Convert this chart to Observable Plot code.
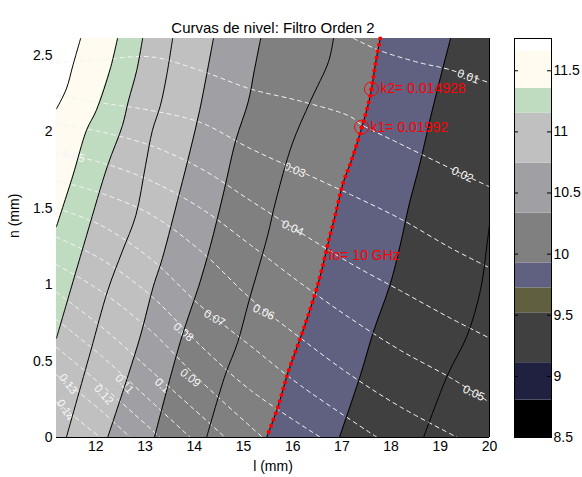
<!DOCTYPE html>
<html>
<head>
<meta charset="utf-8">
<script src="https://cdn.jsdelivr.net/npm/d3@7"></script>
<script src="https://cdn.jsdelivr.net/npm/@observablehq/plot@0.6"></script>
<style>
  html, body { margin: 0; padding: 0; background: #fff; }
  #wrap { position: relative; width: 582px; height: 477px; font-family: "Liberation Sans", Arial, Helvetica, sans-serif; }
  #wrap svg { position: absolute; top: 0; }
</style>
</head>
<body>
<div id="wrap"></div>
<script>
// ---- axes ----
const xDomain = [11.2, 20];
const yDomain = [0, 2.61];
const xTicks = [12, 13, 14, 15, 16, 17, 18, 19, 20];
const yTicks = [0, 0.5, 1, 1.5, 2, 2.5];

// ---- frequency contour lines (GHz), points [l (mm), n (mm)] ----
const fLevels = [11.75, 11.5, 11.25, 11.0, 10.75, 10.5, 10.25, 10.0, 9.75, 9.5];
const f1175 = [[11.69,2.61],[11.53,2.43],[11.40,2.28],[11.20,2.15]];
const f1150 = [[12.44,2.61],[12.30,2.42],[12.01,2.14],[11.81,2.01],[11.53,1.71],[11.20,1.38]];
const f1125 = [[12.95,2.61],[12.83,2.40],[12.66,2.20],[12.54,2.04],[12.24,1.78],[11.81,1.32],[11.20,0.65]];
const f1100 = [[13.56,2.61],[13.44,2.37],[13.31,2.17],[13.15,2.01],[13.01,1.78],[12.81,1.45],[12.54,1.22],[12.24,0.96],[11.89,0.56],[11.40,0]];
const f1075 = [[14.39,2.61],[14.25,2.37],[14.11,2.14],[13.92,1.88],[13.70,1.60],[13.35,1.17],[13.17,0.99],[12.91,0.67],[12.66,0.41],[12.24,0]];
const f1050 = [[15.35,2.61],[15.22,2.40],[15.10,2.20],[14.84,1.94],[14.61,1.62],[14.39,1.33],[14.13,1.03],[13.72,0.63],[13.19,0]];
const f1025 = [[16.83,2.61],[16.73,2.46],[16.36,2.20],[15.99,1.92],[15.65,1.54],[15.49,1.32],[15.10,0.88],[14.88,0.62],[14.63,0.41],[14.25,0]];
const f1000 = [[17.78,2.61],[17.68,2.44],[17.58,2.24],[17.38,2.00],[17.17,1.79],[17.03,1.67],[16.87,1.46],[16.75,1.31],[16.52,1.01],[16.20,0.69],[15.91,0.43],[15.69,0.19],[15.47,0]];
const f0975 = [[19.21,2.61],[19.00,2.35],[18.80,2.09],[18.60,1.81],[18.35,1.50],[18.23,1.32],[17.99,1.01],[17.64,0.69],[17.38,0.41],[16.95,0]];
const f0950 = [[20.00,1.39],[19.96,1.29],[19.82,0.97],[19.55,0.67],[19.15,0.41],[18.66,0]];
const fLines = [f1175, f1150, f1125, f1100, f1075, f1050, f1025, f1000, f0975, f0950];
// colour of the band on the higher-l side of each frequency line
const bandColors = ["#FFFBF0", "#C0DCC0", "#C0C0C0", "#C0C0C0", "#A0A0A4", "#808080", "#808080", "#606080", "#404040", "#404040"];

// ---- k contour lines (dashed) ----
const kLevels = ["0.01","0.02","0.03","0.04","0.05","0.06","0.07","0.08","0.09","0.1","0.11","0.12","0.13","0.14"];
const k001 = [[17.24,2.61],[17.78,2.53],[18.60,2.45],[19.15,2.41],[20.00,2.32]];
const k002 = [[11.20,2.45],[12.09,2.47],[13.11,2.49],[14.13,2.40],[15.14,2.28],[16.16,2.20],[17.17,2.10],[17.38,2.05],[18.19,1.92],[19.21,1.76],[20.00,1.64]];
const k003 = [[11.20,2.24],[12.09,2.19],[13.11,2.14],[14.13,2.06],[15.14,1.89],[16.16,1.74],[17.17,1.59],[18.19,1.43],[19.21,1.24],[20.00,1.11]];
const k004 = [[11.20,2.05],[12.09,2.00],[13.11,1.91],[14.13,1.76],[15.14,1.55],[16.16,1.34],[17.17,1.14],[18.19,0.96],[19.21,0.78],[20.00,0.65]];
const k005 = [[11.20,1.86],[12.09,1.80],[13.11,1.68],[14.13,1.50],[15.14,1.26],[16.16,1.01],[17.17,0.78],[18.19,0.57],[19.21,0.39],[20.00,0.23]];
const k006 = [[11.20,1.68],[12.09,1.60],[13.11,1.46],[14.13,1.22],[15.14,0.91],[16.16,0.65],[17.17,0.41],[18.19,0.20],[19.35,0]];
const k007 = [[11.20,1.50],[12.09,1.39],[13.11,1.17],[14.13,0.86],[15.14,0.60],[16.16,0.34],[17.72,0]];
const k008 = [[11.20,1.31],[12.09,1.17],[13.11,0.93],[14.13,0.60],[15.14,0.31],[16.57,0]];
const k009 = [[11.20,1.13],[12.09,0.96],[13.11,0.70],[14.13,0.37],[15.39,0]];
const k010 = [[11.20,0.95],[12.09,0.73],[13.11,0.44],[14.63,0]];
const k011 = [[11.20,0.77],[12.09,0.54],[13.11,0.24],[13.92,0]];
const k012 = [[11.20,0.59],[12.09,0.35],[13.31,0]];
const k013 = [[11.20,0.41],[12.09,0.18],[12.70,0]];
const k014 = [[11.20,0.23],[12.09,0]];
const kLines = [k001,k002,k003,k004,k005,k006,k007,k008,k009,k010,k011,k012,k013,k014];

// k contour labels: [l, n, text, angle]
const kLabels = [
  [19.57, 2.36, "0.01", 20], [19.45, 1.72, "0.02", 25], [16.04, 1.75, "0.03", 22],
  [16.00, 1.37, "0.04", 25], [19.68, 0.29, "0.05", 25], [11.55, 1.84, "0.05", 15],
  [15.41, 0.82, "0.06", 25], [14.41, 0.78, "0.07", 30], [13.78, 0.69, "0.08", 40],
  [13.92, 0.39, "0.09", 38], [13.35, 0.34, "0.1", 42], [12.58, 0.35, "0.11", 48],
  [12.16, 0.28, "0.12", 48], [11.44, 0.35, "0.13", 52], [11.38, 0.18, "0.14", 58]
];

// marked points
const kPoints = [[17.60, 2.28, "k2= 0.014928"], [17.40, 2.03, "k1= 0.01992"]];
const foNote = [[16.73, 1.19, "fo= 10 GHz"]];

// ---- colour bar ----
const cbEdges = [8.5, 8.806, 9.112, 9.52, 9.724, 9.928, 10.336, 10.744, 11.152, 11.356, 11.662, 11.764];
const cbColors = ["#000000","#202040","#404040","#606040","#606080","#808080","#A0A0A4","#C0C0C0","#C0DCC0","#FFFBF0","#FFFFFF"];
const cbTicks = [8.5, 9, 9.5, 10, 10.5, 11, 11.5];

const FONT = '"Liberation Sans", Arial, Helvetica, sans-serif';
const X = d => d[0], Y = d => d[1];
const CURVE = "catmull-rom";

const bandMarks = fLines.map((ln, i) => {
  const pts = ln[ln.length - 1][1] > 0 ? [...ln, [xDomain[0], 0]] : ln;
  return Plot.areaX(pts, {x1: X, x2: xDomain[1], y: Y, fill: bandColors[i], curve: ln === pts ? CURVE : "linear"});
});
const kMarks = kLines.map(ln => Plot.line(ln, {x: X, y: Y, stroke: "#f4f4f4", strokeWidth: 1, strokeDasharray: "4,4", curve: CURVE}));
const fMarks = fLines.map(ln => Plot.line(ln, {x: X, y: Y, stroke: "black", strokeWidth: 1, curve: CURVE}));

const main = Plot.plot({
  width: 500, height: 477,
  marginLeft: 56, marginRight: 11, marginTop: 38, marginBottom: 40,
  x: {domain: xDomain, label: null},
  y: {domain: yDomain, label: null},
  style: {fontFamily: FONT, fontSize: "14px", color: "black", background: "transparent", overflow: "visible"},
  marks: [
    ...bandMarks,
    ...kMarks,
    Plot.text(kLabels, {x: X, y: Y, text: d => d[2], rotate: d => d[3], fill: "#f6f6f6", fontSize: 11.5, fontFamily: FONT}),
    ...fMarks,
    Plot.line(f1000, {x: X, y: Y, stroke: "red", strokeWidth: 4.2, strokeDasharray: "0 6.5", strokeLinecap: "round", curve: CURVE}),
    Plot.dot(kPoints, {x: X, y: Y, r: 7, stroke: "red", fill: "none", strokeWidth: 1}),
    Plot.dot(kPoints, {x: X, y: Y, r: 2, fill: "red"}),
    Plot.text(kPoints, {x: X, y: Y, text: d => d[2], textAnchor: "start", dx: 9, fill: "red", fontSize: 14, fontFamily: FONT}),
    Plot.text(foNote, {x: X, y: Y, text: d => d[2], textAnchor: "start", fill: "red", fontSize: 14, fontFamily: FONT}),
    Plot.ruleY([0], {stroke: "black"}),
    Plot.ruleX([xDomain[1]], {stroke: "black"}),
    Plot.axisX({ticks: xTicks, tickSize: 0, tickPadding: 4, tickFormat: d => String(d), label: null, fontSize: 14}),
    Plot.axisY({ticks: yTicks, tickSize: 0, tickPadding: 4, tickFormat: d => String(d), label: null, fontSize: 14}),
    Plot.text(["Curvas de nivel: Filtro Orden 2"], {frameAnchor: "top", dy: -16, text: d => d, fontSize: 15, fill: "black"}),
    Plot.text(["l (mm)"], {frameAnchor: "bottom", dy: 33, text: d => d, fontSize: 14, fill: "black"}),
    Plot.text(["n (mm)"], {frameAnchor: "left", dx: -42, rotate: -90, text: d => d, fontSize: 14, fill: "black"})
  ]
});
main.style.left = "0px";

const bar = Plot.plot({
  width: 82, height: 477,
  marginLeft: 14, marginRight: 31, marginTop: 38, marginBottom: 40,
  x: {domain: [0, 1], axis: null},
  y: {domain: [cbEdges[0], cbEdges[cbEdges.length - 1]], axis: null},
  color: {type: "identity"},
  style: {fontFamily: FONT, fontSize: "14px", color: "black", background: "transparent", overflow: "visible"},
  marks: [
    Plot.rect(cbColors, {x1: 0, x2: 1, y1: (d, i) => cbEdges[i], y2: (d, i) => cbEdges[i + 1], fill: d => d}),
    Plot.frame({stroke: "black"}),
    Plot.tickY(cbTicks, {y: d => d, insetRight: 33, stroke: "black"}),
    Plot.tickY(cbTicks, {y: d => d, insetLeft: 33, stroke: "black"}),
    Plot.axisY({anchor: "right", ticks: cbTicks, tickSize: 0, tickPadding: 2, tickFormat: d => String(d), label: null, fontSize: 14})
  ]
});
bar.style.left = "500px";

const wrap = document.getElementById("wrap");
wrap.appendChild(main);
wrap.appendChild(bar);
</script>
</body>
</html>
